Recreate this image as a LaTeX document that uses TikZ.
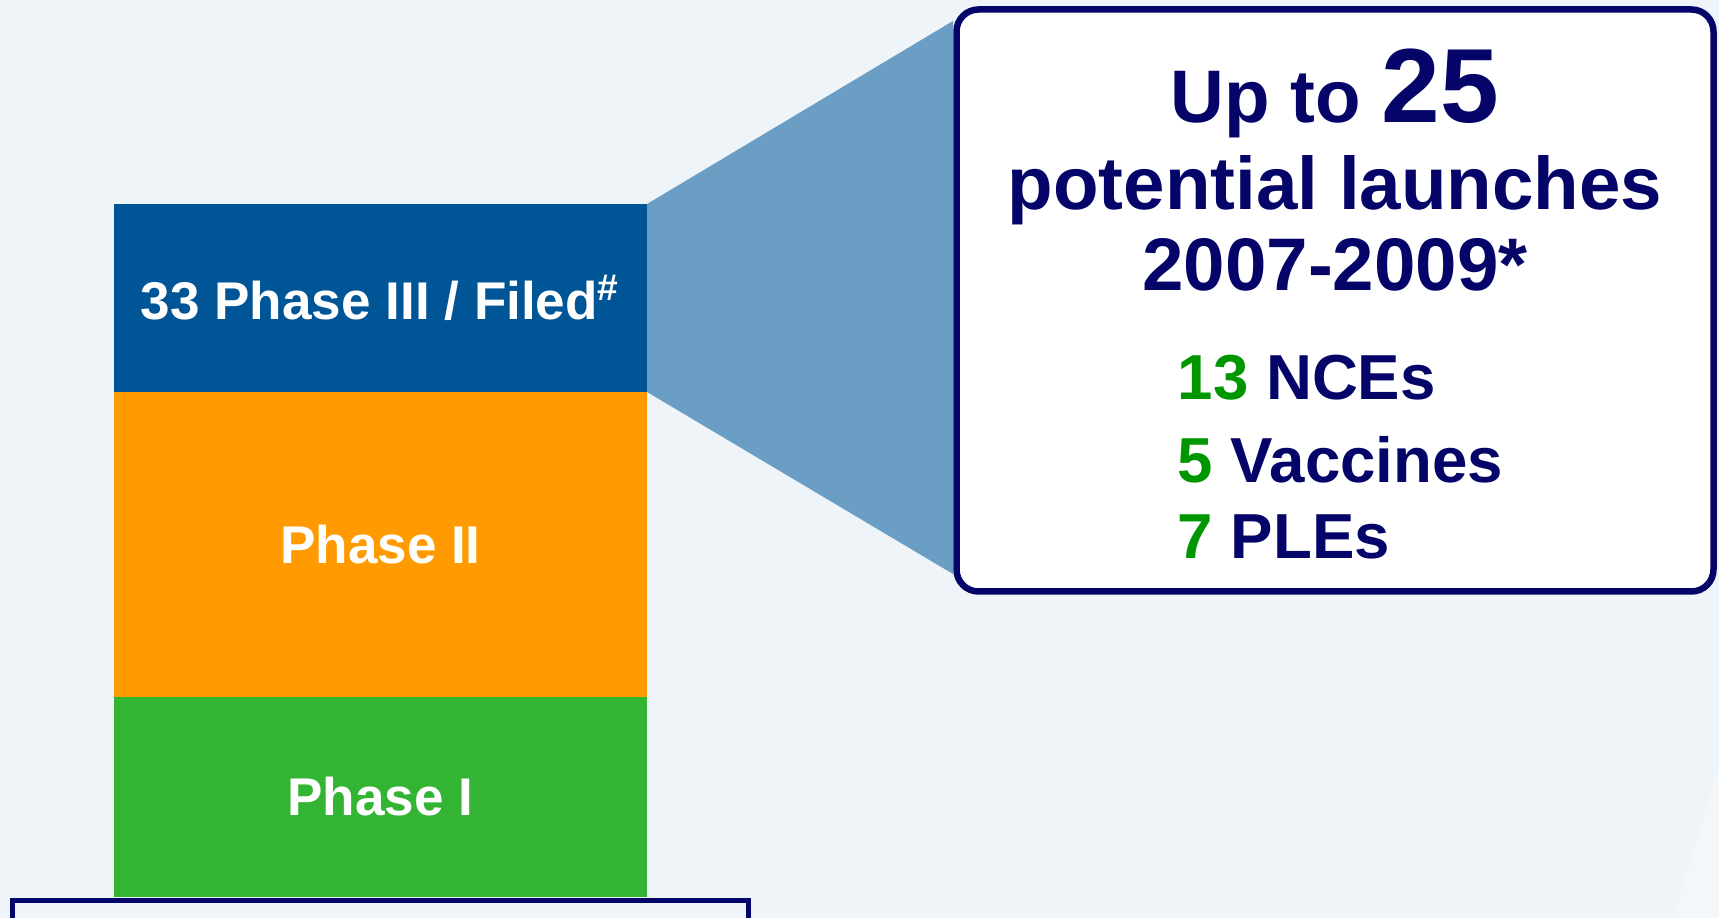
\documentclass[tikz,border=0pt]{standalone}
\usepackage{fontspec}
\setmainfont{Liberation Sans}
\usetikzlibrary{positioning}
\definecolor{bgpale}{RGB}{239,244,248}
\definecolor{phaseblue}{RGB}{0,85,150}
\definecolor{phaseorange}{RGB}{255,155,0}
\definecolor{phasegreen}{RGB}{51,180,51}
\definecolor{fanblue}{RGB}{106,158,196}
\definecolor{navy}{RGB}{5,5,105}
\definecolor{countgreen}{RGB}{0,150,0}

\begin{document}
\begin{tikzpicture}[
    stage/.style={inner sep=0pt, outer sep=0pt, minimum width=5.33cm, text=white, font=\fontsize{15.1}{18}\selectfont\bfseries},
    headline/.style={anchor=base, inner sep=0pt, text=navy, font=\fontsize{21.2}{25}\selectfont\bfseries},
    count/.style={anchor=base west, inner sep=0pt, text=navy, font=\fontsize{18.1}{22}\selectfont\bfseries},
]
\fill[bgpale] (0,0) rectangle (17.19,9.18);
\clip (0,0) rectangle (17.19,9.18);
\fill[white, opacity=0.35] (17.19,1.5) -- (17.10,1.21) -- (16.73,0) -- (17.19,0) -- cycle;

% pipeline stack
\node[stage, fill=phaseblue, minimum height=1.88cm, anchor=north west] (ph3) at (1.14,7.14) {33 Phase III / Filed\textsuperscript{\#}};
\node[stage, fill=phaseorange, minimum height=3.05cm, below=0pt of ph3] (ph2) {Phase II};
\node[stage, fill=phasegreen, minimum height=2.00cm, below=0pt of ph2] (ph1) {Phase I};
\node[draw=navy, line width=0.05cm, minimum width=7.35cm, minimum height=1cm, inner sep=0pt, anchor=north west] (base) at (0.105,0.195) {};

% callout
\fill[fanblue] (ph3.north east) -- (9.53,8.97) -- (9.53,3.44) -- (ph3.south east) -- cycle;
\node[draw=navy, line width=0.065cm, fill=white, rounded corners=0.22cm, minimum width=7.57cm, minimum height=5.82cm, inner sep=0pt] (launch) at (13.35,6.175) {};

\node[headline] (upto) at (13.35,7.95) {Up to {\fontsize{30}{36}\selectfont 25}};
\node[headline] (potential) at (13.35,7.08) {potential launches};
\node[headline] (years) at (13.35,6.27) {2007-2009*};
\node[count] (nce) at (11.77,5.18) {\textcolor{countgreen}{13} NCEs};
\node[count] (vacc) at (11.77,4.35) {\textcolor{countgreen}{5} Vaccines};
\node[count] (ple) at (11.77,3.59) {\textcolor{countgreen}{7} PLEs};
\end{tikzpicture}
\end{document}
